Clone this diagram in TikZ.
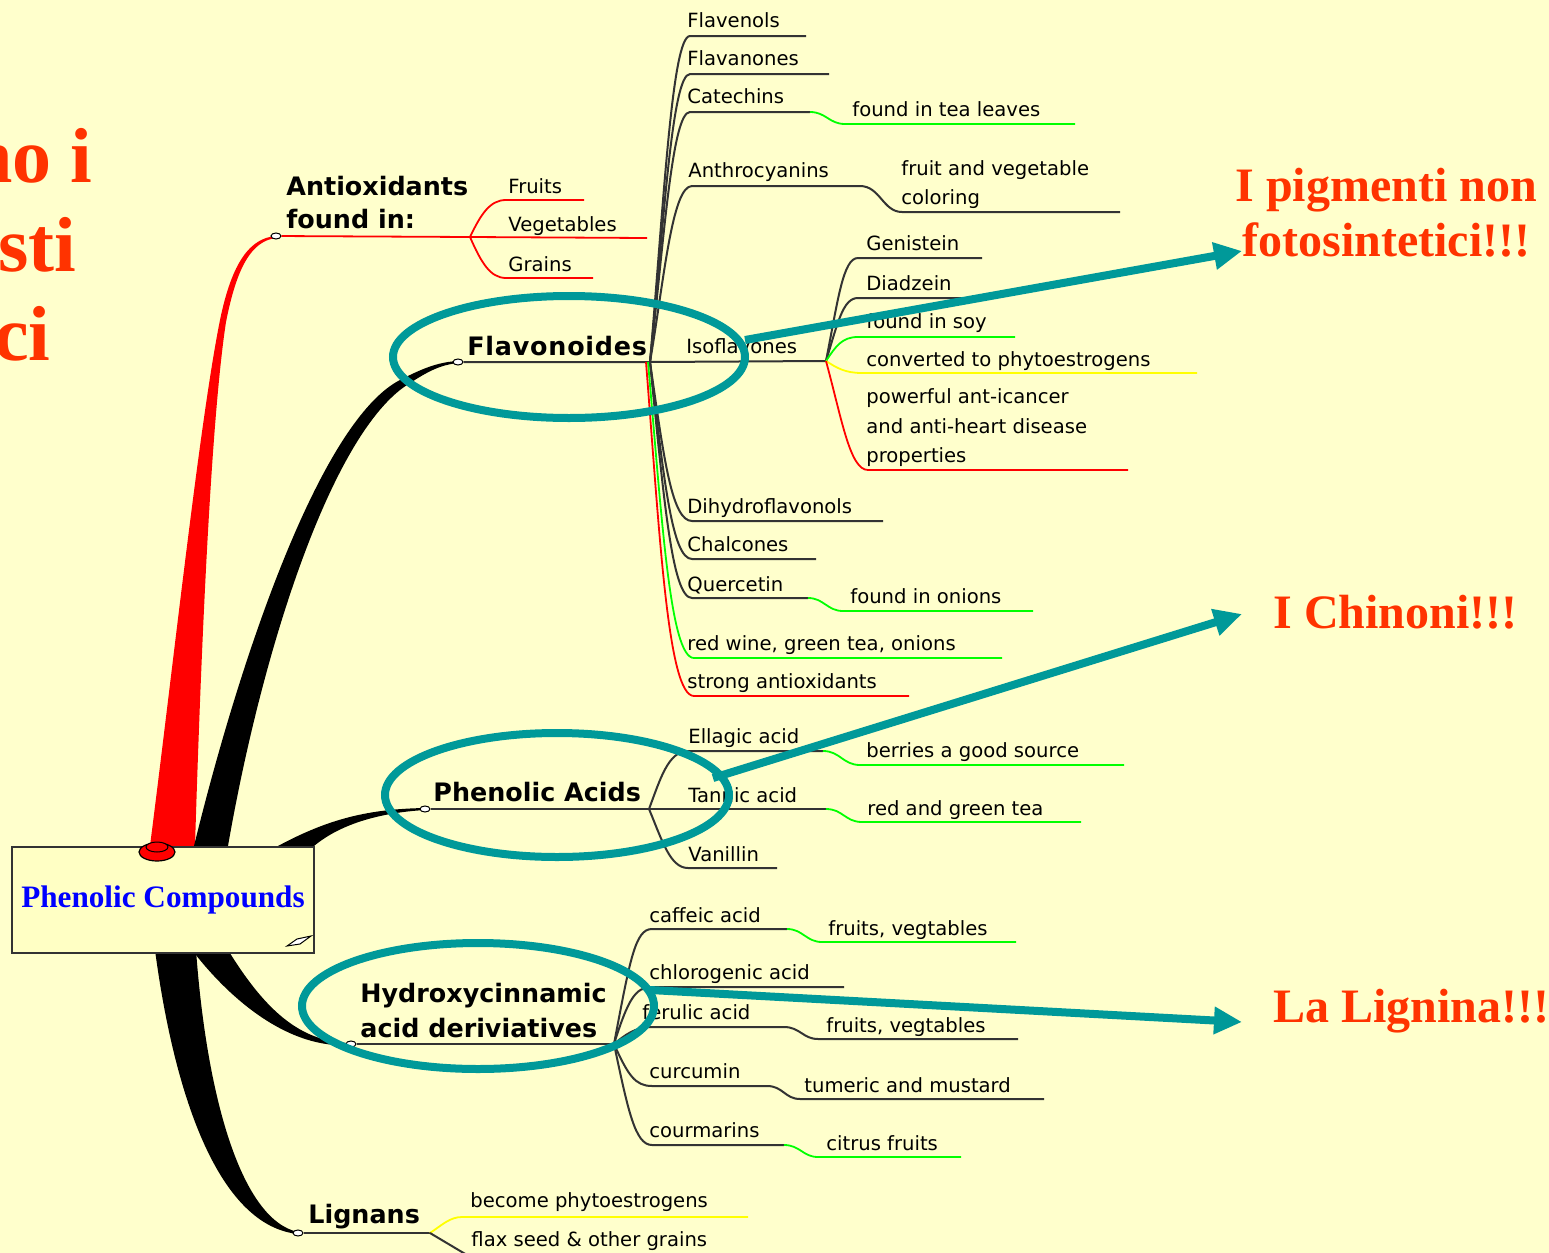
\documentclass[tikz,border=0pt]{standalone}
\usepackage{fontspec}
\setmainfont{Liberation Serif}
\setsansfont{DejaVu Sans}
\usetikzlibrary{arrows.meta,shapes.geometric}
\definecolor{bg}{HTML}{FFFFCC}
\definecolor{boxfill}{HTML}{FFFFC4}
\definecolor{ringc}{HTML}{009999}
\definecolor{redtxt}{HTML}{FF3300}
\definecolor{lgreen}{HTML}{00FF00}
\definecolor{lyellow}{HTML}{FFFF00}
\definecolor{lred}{HTML}{FF0000}
\definecolor{dline}{HTML}{333333}
\tikzset{
  lbl/.style={font=\sffamily\fontsize{9.8}{12}\selectfont, anchor=base west, inner sep=0pt},
  blbl/.style={font=\sffamily\bfseries\fontsize{12.7}{15}\selectfont, anchor=base west, inner sep=0pt},
  bigred/.style={font=\bfseries\fontsize{24}{28}\selectfont, text=redtxt, anchor=base west, inner sep=0pt},
  cuttxt/.style={font=\bfseries\fontsize{39}{44}\selectfont, text=redtxt, anchor=base east, inner sep=0pt},
  bl/.style={draw=dline, line width=1pt},
  gl/.style={draw=lgreen, line width=0.9pt},
  yl/.style={draw=lyellow, line width=0.9pt},
  rl/.style={draw=lred, line width=0.9pt},
  knob/.style={ellipse, draw=black, fill=white, line width=0.5pt, minimum width=5pt, minimum height=3pt, inner sep=0pt},
  ring/.style={ellipse, draw=ringc, line width=4pt, inner sep=0pt},
  tarrow/.style={draw=ringc, line width=4pt, -{Triangle[length=14pt,width=13pt]}},
  cbox/.style={draw=dline, line width=1pt, fill=boxfill, minimum width=151pt, minimum height=53pt, inner sep=0pt, text=blue, font=\bfseries\fontsize{15.6}{18}\selectfont},
}
\begin{document}
\begin{tikzpicture}[x=0.5pt,y=-0.5pt]
\useasboundingbox (0,0) rectangle (1549,1253);
\fill[bg] (0,0) rectangle (1549,1253);

% cut title text on the left
\node[cuttxt] (c1) at (93,182) {no i};
\node[cuttxt] (c2) at (77,271) {sti};
\node[cuttxt] (c3) at (51,360) {ci};

% tapered main branches
\fill[lred] (150,846) .. controls (175,650) and (200,420) .. (220,320)
  .. controls (232,262) and (250,238) .. (276,236)
  -- (276,238) .. controls (252,241) and (237,266) .. (226,322)
  .. controls (211,420) and (201,650) .. (195,846) -- cycle;
\fill[black] (194,846) .. controls (242,650) and (322,420) .. (400,380)
  .. controls (425,367) and (440,362) .. (458,361)
  -- (458,363) .. controls (440,365) and (428,371) .. (404,387)
  .. controls (330,440) and (262,650) .. (228,846) -- cycle;
\fill[black] (278,846) .. controls (330,818) and (370,809) .. (425,808)
  -- (425,810) .. controls (375,813) and (338,826) .. (314,846) -- cycle;
\fill[black] (228,950) .. controls (265,1010) and (300,1042) .. (350,1043)
  -- (350,1045) .. controls (290,1049) and (232,1002) .. (192,950) -- cycle;
\fill[black] (155,950) .. controls (175,1100) and (220,1226) .. (298,1234)
  -- (298,1232) .. controls (242,1220) and (207,1100) .. (196,950) -- cycle;

% central box
\node[cbox] (pc) at (163,900) {Phenolic Compounds};
\node[ellipse, fill=lred, draw=black, line width=0.6pt, minimum width=18pt, minimum height=9pt, inner sep=0pt] (rk) at (157,852) {};
\node[ellipse, fill=lred, draw=black, line width=0.5pt, minimum width=11pt, minimum height=5pt, inner sep=0pt] (rk2) at (157,847) {};
\draw[fill=white, draw=black, line width=0.5pt] (287,946) -- (297,939) -- (311,936) -- (300,944) -- cycle;

% ---------- Antioxidants ----------
\node[knob] (kA) at (276,236) {};
\coordinate (jA) at (470,237);
\draw[rl] (kA) -- (jA);
\node[blbl] (tA1) at (286,195) {Antioxidants};
\node[blbl] (tA2) at (286,228) {found in:};
\draw[rl] (jA) .. controls (481,214) and (490,200) .. (506,200) -- (584,200);
\node[lbl] (fru) at (508,193) {Fruits};
\draw[rl] (jA) -- (647,238);
\node[lbl] (veg) at (508,231) {Vegetables};
\draw[rl] (jA) .. controls (481,262) and (490,278) .. (506,278) -- (593,278);
\node[lbl] (gra) at (508,271) {Grains};

% ---------- Flavonoides ----------
\node[knob] (kF) at (458,362) {};
\coordinate (jF) at (650,362);
\coordinate (jI) at (826,361);
\node[blbl, font=\sffamily\bfseries\fontsize{12.7}{15}\selectfont\addfontfeature{LetterSpace=3}] (tF) at (467,355) {Flavonoides};
\draw[bl] (kF) -- (jF) -- (jI);
\node[lbl] (iso) at (686,353) {Isoflavones};

\draw[bl] (jF) .. controls (664,200) and (672,36) .. (690,36) -- (806,36);
\node[lbl] (fv1) at (687,27) {Flavenols};
\draw[bl] (jF) .. controls (664,220) and (672,74) .. (690,74) -- (829,74);
\node[lbl] (fv2) at (687,65) {Flavanones};
\draw[bl] (jF) .. controls (664,240) and (672,112) .. (690,112) -- (810,112);
\draw[gl] (810,112) .. controls (826,112) and (829,124) .. (845,124) -- (1075,124);
\node[lbl] (fv3) at (687,103) {Catechins};
\node[lbl] (fv3a) at (852,116) {found in tea leaves};
\draw[bl] (jF) .. controls (664,280) and (672,186) .. (692,186) -- (860,186)
  .. controls (880,186) and (883,212) .. (902,212) -- (1120,212);
\node[lbl] (fv4) at (688,177) {Anthrocyanins};
\node[lbl] (fv4a) at (901,175) {fruit and vegetable};
\node[lbl] (fv4b) at (901,204) {coloring};

% isoflavones children
\draw[bl] (jI) .. controls (838,300) and (843,258) .. (858,258) -- (982,258);
\node[lbl] (gen) at (866,250) {Genistein};
\draw[bl] (jI) .. controls (838,322) and (843,298) .. (858,298) -- (966,298);
\node[lbl] (dia) at (866,290) {Diadzein};
\draw[gl] (jI) .. controls (836,346) and (842,337) .. (858,337) -- (1015,337);
\node[lbl] (soy) at (866,328) {found in soy};
\draw[yl] (jI) .. controls (837,368) and (845,373) .. (862,373) -- (1197,373);
\node[lbl] (con) at (866,366) {converted to phytoestrogens};
\draw[rl] (jI) .. controls (842,420) and (850,470) .. (868,470) -- (1128,470);
\node[lbl] (pw1) at (866,403) {powerful ant-icancer};
\node[lbl] (pw2) at (866,433) {and anti-heart disease};
\node[lbl] (pw3) at (866,462) {properties};

% downward flavonoid branches
\draw[bl] (jF) .. controls (664,460) and (672,521) .. (692,521) -- (883,521);
\node[lbl] (dih) at (687,513) {Dihydroflavonols};
\draw[bl] (jF) .. controls (664,480) and (672,559) .. (692,559) -- (816,559);
\node[lbl] (cha) at (687,551) {Chalcones};
\draw[bl] (jF) .. controls (664,500) and (672,598) .. (692,598) -- (808,598);
\draw[gl] (808,598) .. controls (824,598) and (827,611) .. (843,611) -- (1033,611);
\node[lbl] (que) at (687,591) {Quercetin};
\node[lbl] (quea) at (850,603) {found in onions};
\draw[gl] (648,362) .. controls (662,520) and (670,658) .. (694,658) -- (1002,658);
\node[lbl] (rw) at (687,650) {red wine, green tea, onions};
\draw[rl] (646,362) .. controls (660,540) and (668,696) .. (694,696) -- (909,696);
\node[lbl] (sa) at (687,688) {strong antioxidants};

% ---------- Phenolic Acids ----------
\node[knob] (kP) at (425,809) {};
\coordinate (jP) at (649,809);
\node[blbl] (tP) at (433,801) {Phenolic Acids};
\draw[bl] (kP) -- (jP) -- (826,809);
\draw[gl] (826,809) .. controls (843,809) and (845,822) .. (862,822) -- (1081,822);
\node[lbl] (tan) at (688,802) {Tannic acid};
\node[lbl] (tana) at (867,815) {red and green tea};
\draw[bl] (jP) .. controls (660,780) and (668,751) .. (688,751) -- (823,751);
\draw[gl] (823,751) .. controls (840,751) and (843,765) .. (860,765) -- (1124,765);
\node[lbl] (ell) at (688,743) {Ellagic acid};
\node[lbl] (ella) at (866,757) {berries a good source};
\draw[bl] (jP) .. controls (662,840) and (670,868) .. (688,868) -- (777,868);
\node[lbl] (van) at (688,861) {Vanillin};

% ---------- Hydroxycinnamic ----------
\node[knob] (kH) at (351,1044) {};
\coordinate (jH) at (614,1044);
\node[blbl] (tH1) at (360,1002) {Hydroxycinnamic};
\node[blbl] (tH2) at (360,1037) {acid deriviatives};
\draw[bl] (kH) -- (jH);
\draw[bl] (jH) .. controls (630,960) and (635,929) .. (652,929) -- (787,929);
\draw[gl] (787,929) .. controls (803,929) and (806,942) .. (822,942) -- (1016,942);
\node[lbl] (caf) at (649,922) {caffeic acid};
\node[lbl] (cafa) at (828,935) {fruits, vegtables};
\draw[bl] (jH) .. controls (628,1000) and (635,987) .. (652,987) -- (844,987);
\node[lbl] (chl) at (649,979) {chlorogenic acid};
\draw[bl] (jH) .. controls (625,1035) and (635,1027) .. (652,1027) -- (784,1027)
  .. controls (800,1027) and (803,1039) .. (818,1039) -- (1018,1039);
\node[lbl] (fer) at (642,1019) {ferulic acid};
\node[lbl] (fera) at (826,1032) {fruits, vegtables};
\draw[bl] (jH) .. controls (628,1075) and (635,1086) .. (652,1086) -- (767,1086)
  .. controls (783,1086) and (785,1099) .. (800,1099) -- (1044,1099);
\node[lbl] (cur) at (649,1078) {curcumin};
\node[lbl] (cura) at (804,1092) {tumeric and mustard};
\draw[bl] (jH) .. controls (628,1110) and (635,1145) .. (652,1145) -- (784,1145);
\draw[gl] (784,1145) .. controls (800,1145) and (803,1157) .. (818,1157) -- (961,1157);
\node[lbl] (cou) at (649,1137) {courmarins};
\node[lbl] (coua) at (826,1150) {citrus fruits};

% ---------- Lignans ----------
\node[knob] (kL) at (298,1233) {};
\coordinate (jL) at (430,1233);
\node[blbl] (tL) at (308,1223) {Lignans};
\draw[bl] (kL) -- (jL);
\draw[yl] (jL) .. controls (442,1225) and (450,1217) .. (462,1217) -- (748,1217);
\node[lbl] (lg1) at (470,1207) {become phytoestrogens};
\draw[bl] (jL) -- (472,1258);
\node[lbl] (lg2) at (471,1246) {flax seed \& other grains};

% ---------- highlight rings and arrows ----------
\node[ring, minimum width=176pt, minimum height=61pt] (e1) at (569,357) {};
\node[ring, minimum width=172pt, minimum height=62pt] (e2) at (557,795) {};
\node[ring, minimum width=176pt, minimum height=63pt] (e3) at (478,1006) {};

\node[bigred] (r1a) at (1235,201) {I pigmenti non};
\node[bigred] (r1b) at (1242,256) {fotosintetici!!!};
\node[bigred] (r2) at (1273,628) {I Chinoni!!!};
\node[bigred] (r3) at (1273,1022) {La Lignina!!!};

\coordinate (a1e) at (1242,251);
\coordinate (a2e) at (1242,614);
\coordinate (a3e) at (1242,1022);
\coordinate (a1s) at (745,340);
\coordinate (a2s) at (713,778);
\coordinate (a3s) at (650,990);
\draw[tarrow] (a1s) -- (a1e);
\draw[tarrow] (a2s) -- (a2e);
\draw[tarrow] (a3s) -- (a3e);
\end{tikzpicture}
\end{document}
